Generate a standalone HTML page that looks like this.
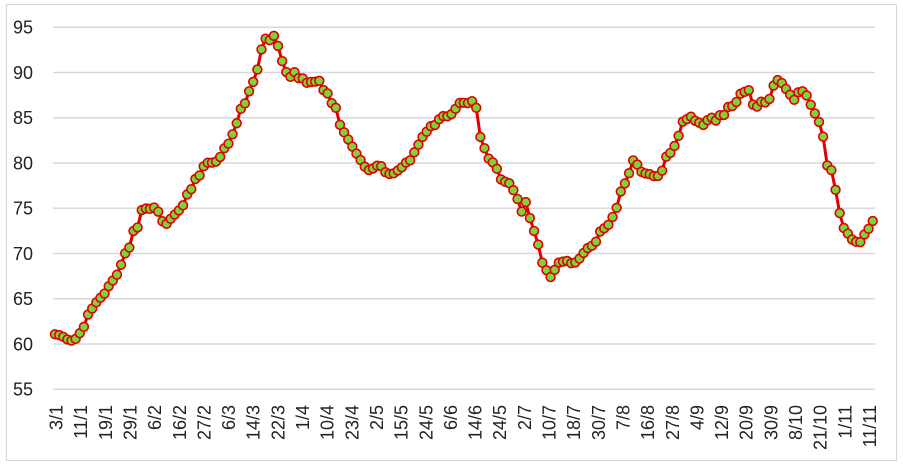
<!DOCTYPE html>
<html><head><meta charset="utf-8"><style>
html,body{margin:0;padding:0;background:#fff;}
body{width:903px;height:466px;overflow:hidden;}
svg{display:block;font-family:"Liberation Sans",Arial,sans-serif;}
</style></head><body>
<svg id="c" width="903" height="466" viewBox="0 0 903 466" xmlns="http://www.w3.org/2000/svg">
<rect x="6.5" y="4.5" width="890" height="456" fill="#fff" stroke="#d9d9d9" stroke-width="1.2"/>
<g stroke="#d9d9d9" stroke-width="1.5">
<line x1="53" x2="875" y1="27.25" y2="27.25"/>
<line x1="53" x2="875" y1="72.5" y2="72.5"/>
<line x1="53" x2="875" y1="117.75" y2="117.75"/>
<line x1="53" x2="875" y1="163" y2="163"/>
<line x1="53" x2="875" y1="208.25" y2="208.25"/>
<line x1="53" x2="875" y1="253.5" y2="253.5"/>
<line x1="53" x2="875" y1="298.75" y2="298.75"/>
<line x1="53" x2="875" y1="344" y2="344"/>
<line x1="53" x2="875" y1="389.25" y2="389.25"/>
</g>
<g font-size="18" fill="#222" text-anchor="end">
<text x="33" y="33.7">95</text>
<text x="33" y="79">90</text>
<text x="33" y="124.2">85</text>
<text x="33" y="169.5">80</text>
<text x="33" y="214.7">75</text>
<text x="33" y="260">70</text>
<text x="33" y="305.2">65</text>
<text x="33" y="350.5">60</text>
<text x="33" y="395.7">55</text>
</g>
<g id="xl" font-size="18" fill="#222" text-anchor="end"></g>
<polyline id="ln" fill="none" stroke="#e00000" stroke-width="3" stroke-linejoin="round" points=""/>
<g id="mk" fill="#7ed23a" stroke="#e00000" stroke-width="1.6"></g>
</svg>
<script>
var src=[[55,334.3],[59,335],[64.3,337.3],[68.3,340],[72.3,340.7],[76.7,338.3],[79.3,334],[84,326.7],[87.7,315],[91.7,309.3],[96,302.7],[100,298.3],[104.3,294],[108.3,286.7],[112.7,280.7],[116.7,275.3],[121,265],[124.3,254.3],[129,249.3],[132.3,232],[137.7,227.3],[140.7,210.7],[145,208.3],[149.3,209.3],[153.3,206.7],[158.3,211.7],[161.7,220.7],[166.7,224],[171,218.3],[175,214.3],[180,209.3],[183.3,205],[186.7,195],[191,190],[195,179.3],[199.3,176],[203.3,166.7],[207.3,162.7],[211.7,162.7],[216,161.7],[220,157.3],[224.3,148.3],[228.3,144],[232.7,134],[236.7,123.3],[241,108.3],[245,103.3],[249.3,90.7],[253.3,81.7],[258.3,66.7],[261.7,48.3],[265,38.3],[269.3,40.7],[274,35.7],[278.3,46.7],[282.3,61.7],[286,71.7],[290,77.3],[295,71.7],[299.3,79.3],[303.3,78.3],[307.3,83.3],[311.7,81.7],[315.7,81.7],[320,80.7],[323.3,90],[328.3,94],[332.7,106],[336.7,108.3],[340,125],[345,134],[349,140.7],[353.3,148.3],[357.3,155],[361.7,161.7],[365.7,168.3],[370,170.7],[374,167.7],[378.3,165],[382.3,166.7],[386,173.3],[390,174],[394,173.3],[398.3,170],[402.7,166.7],[406.7,161.7],[411,160],[415,150.7],[418.3,145],[422.3,137.3],[426.7,131.7],[431.7,125],[435,125],[438.3,120],[442.7,116],[446.7,116.7],[451.7,114],[455,110],[458.5,103],[463.3,102.7],[467.7,103.3],[471.7,100.7],[476,106],[480,136],[484.3,147.7],[488.3,158.3],[492.3,161.7],[496.7,168.3],[500.7,179.3],[505,181.7],[509.3,183.3],[513.3,190],[517.3,198.3],[521.7,211.7],[525.7,201.7],[530,218.3],[534.3,231.7],[538.3,245],[542.3,262.7],[546.7,270.7],[550.7,277.3],[555,269.3],[558.3,262.7],[562.3,261.7],[566.7,260.7],[570.7,263.3],[575,262.7],[579,259.3],[583.3,253.3],[587.3,248.3],[591.7,246],[596,241.7],[600,231.7],[604.3,228.3],[608.3,225],[612.7,216.7],[616.7,207.7],[620.7,191.7],[625,183.3],[629,173.3],[633.3,160],[637.7,165],[641,171.7],[645,173.3],[649.3,174],[653.3,176],[657.3,176.7],[661.7,172],[666.7,155],[670.7,152.7],[675,145],[679.3,134],[682.7,121.7],[686.7,119.3],[691,116.7],[695,120.7],[699.3,122.7],[703.3,125],[707.7,120],[711.7,117.7],[716,120.7],[720,115],[724.3,115],[728.3,106.7],[732.7,106],[736.7,101.7],[740,94],[745,91.7],[749.3,90],[753.3,106],[757.7,106.7],[761.7,101],[766,102.7],[770,98.3],[773.3,86],[778.3,79.3],[782.7,84],[786.7,90],[791,96],[795,100.7],[799.3,90],[803.3,91.7],[807.7,96.7],[811.7,107.3],[815.7,115],[820,124],[823.3,137.3],[826.7,165],[831,168.3],[835,186.7],[839.3,211.7],[843.3,227.3],[847.7,233.3],[851.7,239.3],[856,241.7],[860,242.7],[864,235],[868.3,229.3],[872.7,221]];
var N=199,x0=55,x1=872.7,pts=[],j=0;
for(var i=0;i<N;i++){var x=x0+(x1-x0)*i/(N-1);while(j<src.length-2&&src[j+1][0]<x)j++;var a=src[j],b=src[j+1];var t=(b[0]-a[0])?(x-a[0])/(b[0]-a[0]):0;if(t<0)t=0;if(t>1)t=1;pts.push([x.toFixed(2),(a[1]+(b[1]-a[1])*t).toFixed(2)]);}
var NS="http://www.w3.org/2000/svg";
document.getElementById("ln").setAttribute("points",pts.map(function(p){return p[0]+","+p[1];}).join(" "));
var mk=document.getElementById("mk");
pts.forEach(function(p){var c=document.createElementNS(NS,"circle");c.setAttribute("cx",p[0]);c.setAttribute("cy",p[1]);c.setAttribute("r","4.4");mk.appendChild(c);});
var labs=["3/1","11/1","19/1","29/1","6/2","16/2","27/2","6/3","14/3","22/3","1/4","10/4","23/4","2/5","15/5","24/5","6/6","14/6","24/5","2/7","10/7","18/7","30/7","7/8","16/8","27/8","4/9","12/9","20/9","30/9","8/10","21/10","1/11","11/11"];
var xl=document.getElementById("xl");
labs.forEach(function(l,k){var cx=56+24.65*k;var t=document.createElementNS(NS,"text");t.setAttribute("transform","translate("+(cx+6.5)+",405) rotate(-90)");t.textContent=l;xl.appendChild(t);});
</script>
</body></html>
